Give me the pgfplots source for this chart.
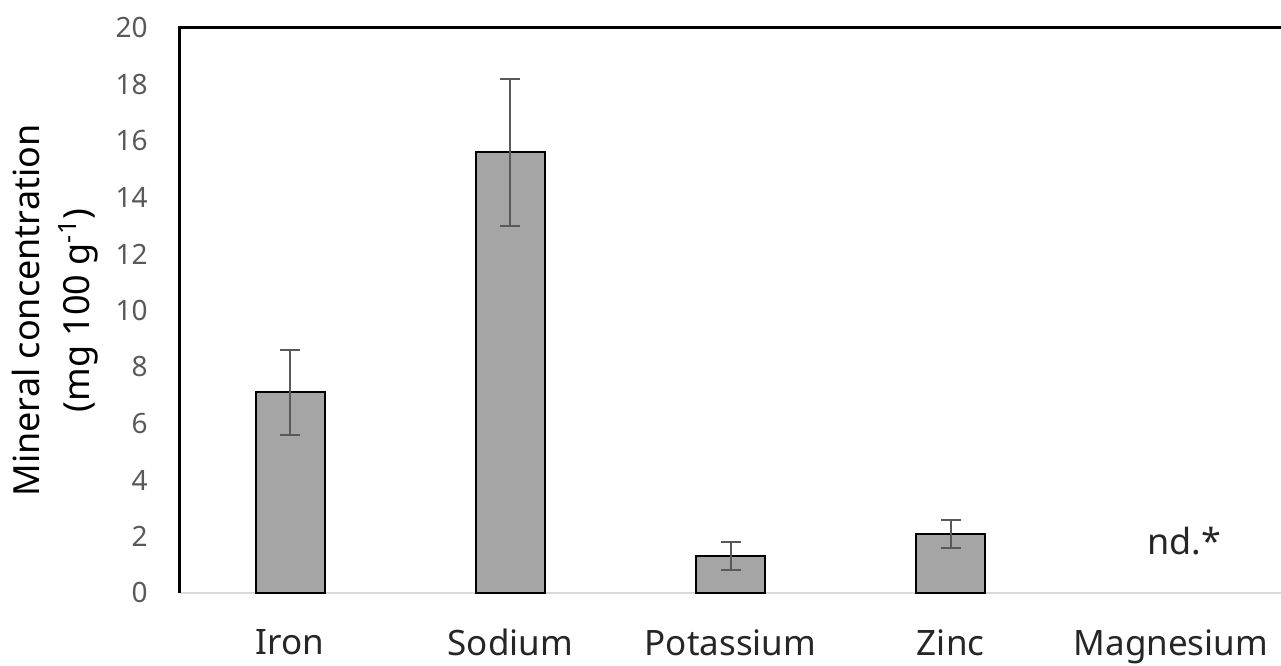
\documentclass[border=0pt]{standalone}
\usepackage{pgfplots}
\pgfplotsset{compat=1.18}
\usepackage{fontspec}
\setmainfont{Noto Sans}
\definecolor{barfill}{HTML}{A5A5A5}
\definecolor{errgray}{HTML}{595959}
\definecolor{tickgray}{HTML}{595959}
\definecolor{basegray}{HTML}{D9D9D9}
\begin{document}
\begin{tikzpicture}
\begin{axis}[
  name=ax,
  scale only axis,
  width=550.5pt, height=282.5pt,
  ybar, bar width=34.5pt,
  xmin=-0.5, xmax=4.5,
  ymin=0, ymax=20,
  ytick={0,2,...,20},
  xtick={0,...,4},
  xticklabels={Iron,Sodium,Potassium,Zinc,Magnesium},
  major tick length=0pt,
  axis line style={draw=none},
  clip=false,
  /pgf/number format/assume math mode=true,
  yticklabel style={font=\fontsize{14}{14}\selectfont, text=tickgray,
    inner sep=0pt, anchor=east, xshift=-16pt},
  xticklabel style={font=\fontsize{17.5}{17.5}\selectfont, text=black!85,
    inner sep=0pt, anchor=north, yshift=-18pt},
]
  \draw[basegray, line width=1pt] (rel axis cs:0,0) -- (rel axis cs:1,0);
  \addplot[fill=barfill, draw=black, line width=1pt,
    error bars/.cd, y dir=both, y explicit,
    error bar style={errgray, line width=1pt},
    error mark options={errgray, rotate=90, mark size=5pt, line width=1pt}]
  coordinates {
    (0,7.1)  +- (0,1.5)
    (1,15.6) +- (0,2.6)
    (2,1.3)  +- (0,0.5)
    (3,2.1)  +- (0,0.5)
  };
  \draw[black, line width=1.5pt] (rel axis cs:0,0) -- (rel axis cs:0,1) -- (rel axis cs:1,1);
  \node[font=\fontsize{18}{18}\selectfont, text=black!85] at (axis cs:4.06,1.85) {nd.*};
\end{axis}
\node[rotate=90, align=center, font=\fontsize{18}{25}\selectfont]
  at ([xshift=-62.5pt]ax.west) {Mineral concentration\\(mg 100 g\textsuperscript{-1})};
\pgfresetboundingbox
\path ([shift={(-90pt,-36.5pt)}]ax.south west) rectangle ([shift={(0pt,14pt)}]ax.north east);
\end{tikzpicture}
\end{document}
